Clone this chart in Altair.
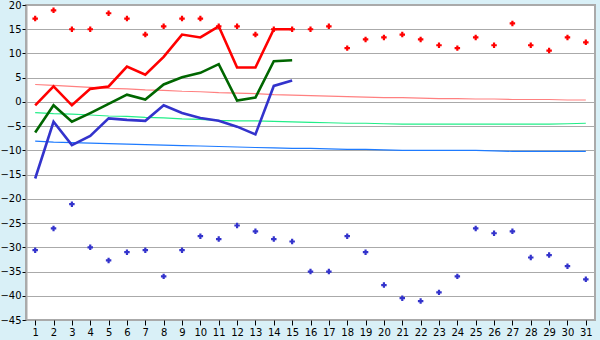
import altair as alt
import pandas as pd

days = list(range(1, 32))
record_max = [17.2, 18.9, 15.0, 15.0, 18.3, 17.2, 13.9, 15.6, 17.2, 17.2,
              15.6, 15.6, 13.9, 15.0, 15.0, 15.0, 15.6, 11.1, 12.9, 13.3,
              13.9, 12.9, 11.7, 11.1, 13.3, 11.7, 16.2, 11.7, 10.6, 13.3, 12.3]
record_min = [-30.6, -26.1, -21.1, -30.0, -32.7, -31.0, -30.6, -36.0, -30.6, -27.7,
              -28.3, -25.5, -26.7, -28.3, -28.8, -35.0, -35.0, -27.7, -31.0, -37.8,
              -40.5, -41.1, -39.3, -36.0, -26.1, -27.1, -26.7, -32.1, -31.6, -33.9, -36.6]

obs_days = list(range(1, 16))
obs_max = [-0.7, 3.2, -0.7, 2.7, 3.2, 7.3, 5.6, 9.3, 13.9, 13.3, 15.6, 7.1, 7.1, 15.0, 15.0]
obs_mean = [-6.3, -0.7, -4.1, -2.3, -0.4, 1.5, 0.5, 3.6, 5.1, 6.0, 7.8, 0.3, 0.9, 8.4, 8.6]
obs_min = [-15.8, -4.1, -8.9, -7.0, -3.4, -3.7, -3.9, -0.7, -2.3, -3.3, -3.9, -5.1, -6.7, 3.3, 4.4]

norm_max = [3.6, 3.4, 3.2, 3.0, 2.8, 2.7, 2.5, 2.4, 2.2, 2.1, 1.9, 1.8, 1.7, 1.5, 1.4,
            1.3, 1.2, 1.1, 1.0, 0.9, 0.9, 0.8, 0.7, 0.7, 0.6, 0.6, 0.5, 0.5, 0.5, 0.4, 0.4]
norm_mean = [-2.2, -2.4, -2.5, -2.7, -2.9, -3.0, -3.2, -3.3, -3.5, -3.6, -3.8, -3.9, -3.9, -4.0, -4.1,
             -4.2, -4.3, -4.4, -4.4, -4.5, -4.6, -4.6, -4.6, -4.6, -4.6, -4.6, -4.6, -4.6, -4.6, -4.5, -4.4]
norm_min = [-8.1, -8.3, -8.4, -8.5, -8.6, -8.7, -8.8, -8.9, -9.0, -9.1, -9.2, -9.3, -9.4, -9.5, -9.6,
            -9.6, -9.7, -9.8, -9.8, -9.9, -10.0, -10.0, -10.0, -10.0, -10.0, -10.1, -10.2, -10.2, -10.2, -10.2, -10.2]

y_ticks = list(range(-45, 21, 5))

rec = pd.DataFrame({"day": days * 2,
                    "value": record_max + record_min,
                    "series": ["rmax"] * 31 + ["rmin"] * 31})
obs = pd.DataFrame({"day": obs_days * 3,
                    "value": obs_max + obs_mean + obs_min,
                    "series": ["omax"] * 15 + ["omean"] * 15 + ["omin"] * 15})
norm = pd.DataFrame({"day": days * 3,
                     "value": norm_max + norm_mean + norm_min,
                     "series": ["nmax"] * 31 + ["nmean"] * 31 + ["nmin"] * 31})

domains = ["rmax", "rmin", "omax", "omean", "omin", "nmax", "nmean", "nmin"]
colors = ["#FF0000", "#3333CC", "#FF0000", "#006600", "#3333CC", "#FF8080", "#22EE88", "#1E7BFF"]
cscale = alt.Scale(domain=domains, range=colors)

x_enc = alt.X("day:Q",
              scale=alt.Scale(domain=[0.5, 31.5], nice=False, zero=False),
              axis=alt.Axis(values=days, title=None, grid=False, domain=False,
                            tickColor="#000000", tickSize=5, labelPadding=2,
                            labelFont="DejaVu Sans", labelFontSize=10, labelColor="#000000"))
y_enc = alt.Y("value:Q",
              scale=alt.Scale(domain=[-45, 20], nice=False, zero=False),
              axis=alt.Axis(values=y_ticks, title=None, grid=True, gridColor="#AAAAAA",
                            gridWidth=1, domain=True, domainColor="#AAAAAA", domainWidth=2,
                            tickColor="#000000", tickSize=4, labelPadding=1,
                            labelFont="DejaVu Sans", labelFontSize=10, labelColor="#000000"))

norm_layer = alt.Chart(norm).mark_line(strokeWidth=1.2, interpolate="linear").encode(
    x=x_enc, y=y_enc,
    color=alt.Color("series:N", scale=cscale, legend=None),
    detail="series:N")

obs_layer = alt.Chart(obs).mark_line(strokeWidth=2.6).encode(
    x=x_enc, y=y_enc,
    color=alt.Color("series:N", scale=cscale, legend=None),
    detail="series:N")

rec_layer = alt.Chart(rec).mark_point(shape="cross", filled=True, size=30, opacity=1).encode(
    x=x_enc, y=y_enc,
    color=alt.Color("series:N", scale=cscale, legend=None))

chart = alt.layer(norm_layer, obs_layer, rec_layer).properties(
    width=569, height=315,
    background="#D9F0F7",
    padding={"left": 26, "top": 5, "right": 5, "bottom": 20},
    autosize=alt.AutoSizeParams(type="none"),
).configure_view(fill="#FFFFFF", stroke="#AAAAAA", strokeWidth=2)

chart.save("out.html", embed_options={"renderer": "svg", "actions": False})
